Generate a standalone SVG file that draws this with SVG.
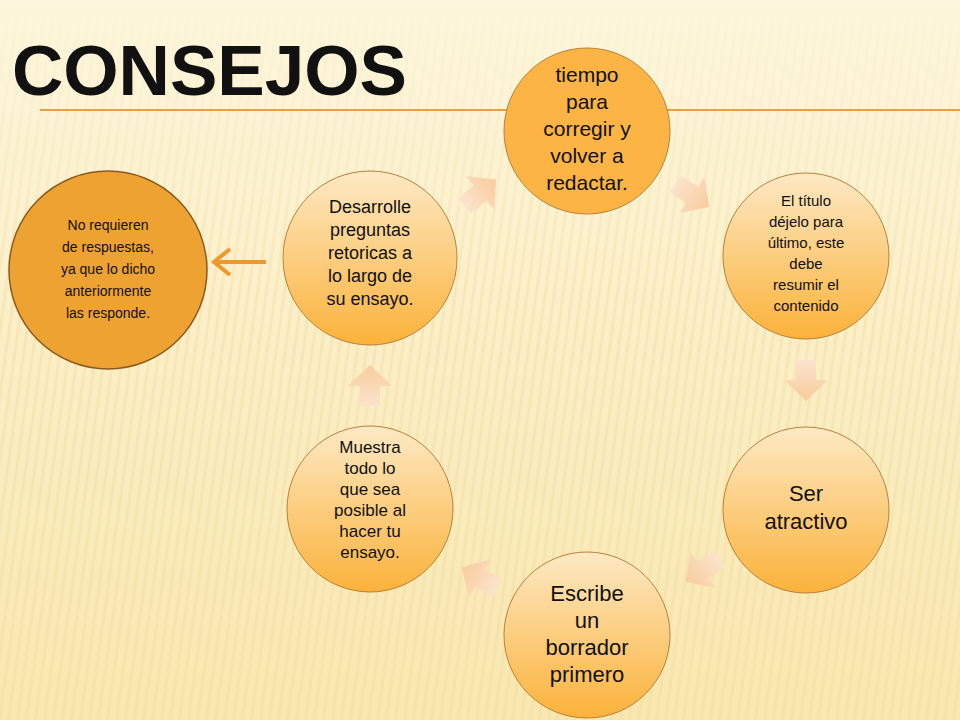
<svg xmlns="http://www.w3.org/2000/svg" width="960" height="720" viewBox="0 0 960 720">
<defs>
<linearGradient id="bg" x1="0" y1="0" x2="0" y2="1"><stop offset="0" stop-color="#fdf6dc"/><stop offset="1" stop-color="#f9e7b0"/></linearGradient>
<linearGradient id="fade" x1="0" y1="0" x2="0" y2="1"><stop offset="0" stop-color="#fff" stop-opacity="0"/><stop offset="0.4" stop-color="#fff" stop-opacity="1"/></linearGradient>
<mask id="m"><rect width="960" height="720" fill="url(#fade)"/></mask>
<pattern id="st" width="9" height="720" patternUnits="userSpaceOnUse" patternTransform="skewX(-8)"><rect width="3" height="720" fill="#f0d898" opacity="0.35"/></pattern>
<linearGradient id="cg" x1="0" y1="0" x2="0" y2="1"><stop offset="0" stop-color="#fde9c4"/><stop offset="1" stop-color="#fbb23a"/></linearGradient>
<linearGradient id="ag" x1="0" y1="0" x2="1" y2="0"><stop offset="0" stop-color="#fbe3cc"/><stop offset="1" stop-color="#f9cc9e"/></linearGradient>
<path id="arr" d="M-20,-10 L0,-10 L0,-22 L21,0 L0,22 L0,10 L-20,10 Z" fill="url(#ag)"/>
<style>
.c{fill:url(#cg);stroke:#b9803a;stroke-width:1}
.t{font-family:"Liberation Sans",Arial,sans-serif;fill:#111;text-anchor:middle}
</style>
</defs>
<rect width="960" height="720" fill="url(#bg)"/>
<rect width="960" height="720" fill="url(#st)" mask="url(#m)"/>
<line x1="40" y1="110" x2="960" y2="110" stroke="#e8a040" stroke-width="2"/>
<text x="12" y="95" font-family="Liberation Sans,Arial,sans-serif" font-weight="bold" font-size="70" fill="#111" textLength="395" lengthAdjust="spacingAndGlyphs">CONSEJOS</text>
<g id="connectors">
<use href="#arr" transform="translate(480,193) rotate(-40)"/>
<use href="#arr" transform="translate(692,195) rotate(35)"/>
<use href="#arr" transform="translate(806,380) rotate(90)"/>
<use href="#arr" transform="translate(703,570) rotate(145)"/>
<use href="#arr" transform="translate(480,578) rotate(-150)"/>
<use href="#arr" transform="translate(370,386) rotate(-90)"/>
<path d="M266,262 H214 M230,249 L214,262 L230,275" fill="none" stroke="#ee9a2a" stroke-width="4"/>
</g>
<g id="n1"><circle class="c" cx="587" cy="131" r="83" style="fill:#fcb444"/>
<text class="t" font-size="21"><tspan x="587" y="82">tiempo</tspan><tspan x="587" y="109">para</tspan><tspan x="587" y="136">corregir y</tspan><tspan x="587" y="163">volver a</tspan><tspan x="587" y="190">redactar.</tspan></text></g>
<g id="n2"><circle class="c" cx="806" cy="256" r="83"/>
<text class="t" font-size="15"><tspan x="806" y="206">El título</tspan><tspan x="806" y="227">déjelo para</tspan><tspan x="806" y="248">último, este</tspan><tspan x="806" y="269">debe</tspan><tspan x="806" y="290">resumir el</tspan><tspan x="806" y="311">contenido</tspan></text></g>
<g id="n3"><circle class="c" cx="806" cy="510" r="83"/>
<text class="t" font-size="22"><tspan x="806" y="501">Ser</tspan><tspan x="806" y="529">atractivo</tspan></text></g>
<g id="n4"><circle class="c" cx="587" cy="635" r="83"/>
<text class="t" font-size="22"><tspan x="587" y="601">Escribe</tspan><tspan x="587" y="628">un</tspan><tspan x="587" y="655">borrador</tspan><tspan x="587" y="682">primero</tspan></text></g>
<g id="n5"><circle class="c" cx="370" cy="509" r="83"/>
<text class="t" font-size="17"><tspan x="370" y="453">Muestra</tspan><tspan x="370" y="474">todo lo</tspan><tspan x="370" y="495">que sea</tspan><tspan x="370" y="516">posible al</tspan><tspan x="370" y="537">hacer tu</tspan><tspan x="370" y="558">ensayo.</tspan></text></g>
<g id="n6"><circle class="c" cx="370" cy="258" r="87"/>
<text class="t" font-size="18"><tspan x="370" y="213">Desarrolle</tspan><tspan x="370" y="236">preguntas</tspan><tspan x="370" y="259">retoricas a</tspan><tspan x="370" y="282">lo largo de</tspan><tspan x="370" y="305">su ensayo.</tspan></text></g>
<g id="n7"><circle cx="108" cy="270" r="99" fill="#eea232" stroke="#8a5a20" stroke-width="1.5"/>
<text class="t" font-size="14"><tspan x="108" y="230">No requieren</tspan><tspan x="108" y="252">de respuestas,</tspan><tspan x="108" y="274">ya que lo dicho</tspan><tspan x="108" y="296">anteriormente</tspan><tspan x="108" y="318">las responde.</tspan></text></g>
</svg>
